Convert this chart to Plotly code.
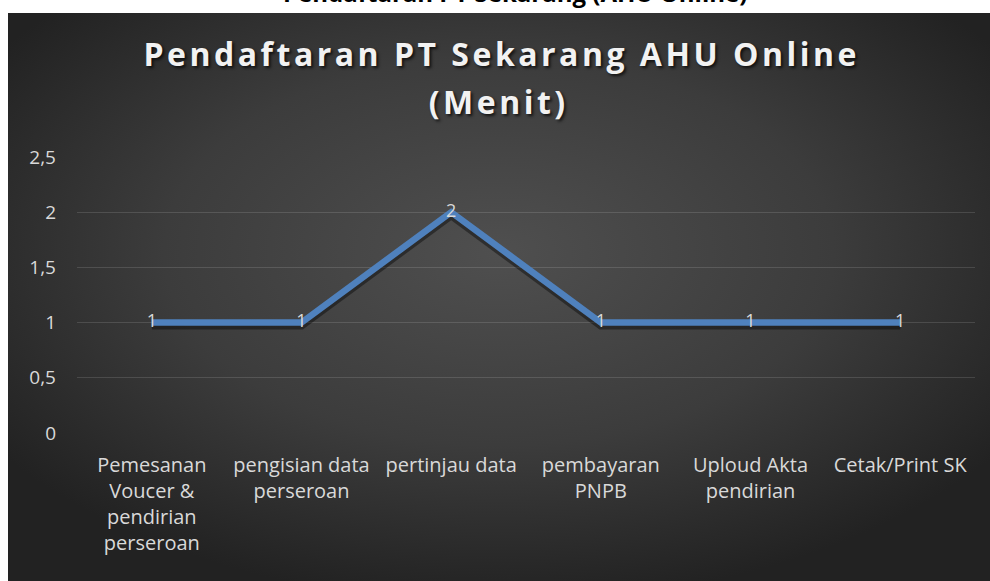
import base64
import plotly.graph_objects as go

# ---- data ----
categories = [
    "Pemesanan<br>Voucer &<br>pendirian<br>perseroan",
    "pengisian data<br>perseroan",
    "pertinjau data",
    "pembayaran<br>PNPB",
    "Uploud Akta<br>pendirian",
    "Cetak/Print SK",
]
values = [1, 1, 2, 1, 1, 1]
y_tick_vals = [0, 0.5, 1, 1.5, 2, 2.5]
title_line1 = "Pendaftaran PT Sekarang AHU Online"
title_line2 = "(Menit)"
page_title = "Pendaftaran PT Sekarang (AHU Online)"

# ---- geometry (pixels) ----
W, H = 990, 581
ML, MR, MT, MB = 77, 15, 157, 148
PW, PH = W - ML - MR, H - MT - MB


def px_x(x):
    return (x - ML) / PW


def px_y(y):
    return (H - MB - y) / PH


# radial gradient background as svg image
svg = (
    "<svg xmlns='http://www.w3.org/2000/svg' width='982' height='569' viewBox='0 0 982 569' preserveAspectRatio='none'>"
    "<defs><radialGradient id='g' cx='50%' cy='42%' r='62%'>"
    "<stop offset='0' stop-color='#4f4f4f'/><stop offset='0.55' stop-color='#3c3c3c'/>"
    "<stop offset='1' stop-color='#222222'/></radialGradient></defs>"
    "<rect width='982' height='569' fill='url(#g)'/></svg>"
)
src = "data:image/svg+xml;base64," + base64.b64encode(svg.encode()).decode()

label_color = "#d9d9d9"
font_family = "Open Sans"

fig = go.Figure()

# invisible carrier so the main axes (grid + ticks) are drawn
fig.add_trace(go.Scatter(
    x=categories, y=values, mode="lines",
    line=dict(color="rgba(0,0,0,0)", width=0),
    hoverinfo="skip", showlegend=False,
))
# soft shadow of the line (same data on an offset overlay axis)
fig.add_trace(go.Scatter(
    x=categories, y=values, mode="lines", yaxis="y2",
    line=dict(color="rgba(0,0,0,0.4)", width=8),
    hoverinfo="skip", showlegend=False,
))
fig.add_trace(go.Scatter(
    x=categories, y=values, mode="lines+text", yaxis="y3",
    text=[str(v) for v in values], textposition="middle center",
    textfont=dict(family=font_family, size=18, color=label_color),
    line=dict(color="#4F81BD", width=6.5),
    showlegend=False,
))

shift = 3 / (PH / 2.5)

fig.update_layout(
    width=W, height=H,
    margin=dict(l=ML, r=MR, t=MT, b=MB, pad=0),
    paper_bgcolor="white",
    plot_bgcolor="rgba(0,0,0,0)",
    separators=",.",
    xaxis=dict(
        type="category", range=[-0.5, 5.5], showgrid=False, zeroline=False,
        showline=False, ticks="", ticklabelstandoff=18,
        tickfont=dict(family=font_family, size=20, color=label_color),
    ),
    yaxis=dict(
        range=[0, 2.5], tickvals=y_tick_vals, showgrid=True,
        gridcolor="rgba(255,255,255,0.13)", gridwidth=1, zeroline=False,
        showline=False, ticks="", ticklabelstandoff=20,
        tickfont=dict(family=font_family, size=19, color=label_color),
    ),
    yaxis2=dict(range=[shift, 2.5 + shift], overlaying="y", visible=False),
    yaxis3=dict(range=[0, 2.5], overlaying="y", visible=False),
    images=[dict(
        source=src, xref="paper", yref="paper",
        x=px_x(8), y=px_y(13), sizex=(W - 8) / PW, sizey=(H - 13) / PH,
        xanchor="left", yanchor="top", sizing="stretch", layer="below",
    )],
    annotations=[
        dict(text=title_line1, xref="paper", yref="paper", x=px_x(501), y=px_y(53),
             xanchor="center", yanchor="middle", showarrow=False,
             font=dict(family=font_family, size=32, color="#f2f2f2", weight="bold",
                       shadow="2px 2px 3px rgba(0,0,0,0.7)")),
        dict(text=title_line2, xref="paper", yref="paper", x=px_x(498), y=px_y(101),
             xanchor="center", yanchor="middle", showarrow=False,
             font=dict(family=font_family, size=32, color="#f2f2f2", weight="bold",
                       shadow="2px 2px 3px rgba(0,0,0,0.7)")),
        dict(text=page_title, xref="paper", yref="paper", x=px_x(515), y=px_y(11),
             xanchor="center", yanchor="bottom", showarrow=False,
             font=dict(family=font_family, size=24, color="black", weight="bold")),
    ],
)

post = """
document.body.style.margin = '0';
document.body.style.overflow = 'hidden';
var gd = document.getElementById('{plot_id}');
gd.querySelectorAll('.annotation-text').forEach(function(t){
  var s = t.textContent;
  if (s === 'Pendaftaran PT Sekarang AHU Online' || s === '(Menit)') {
    t.style.letterSpacing = '3.5px';
  }
});
"""

fig.write_html("out.html", post_script=post, config={"displayModeBar": False})
